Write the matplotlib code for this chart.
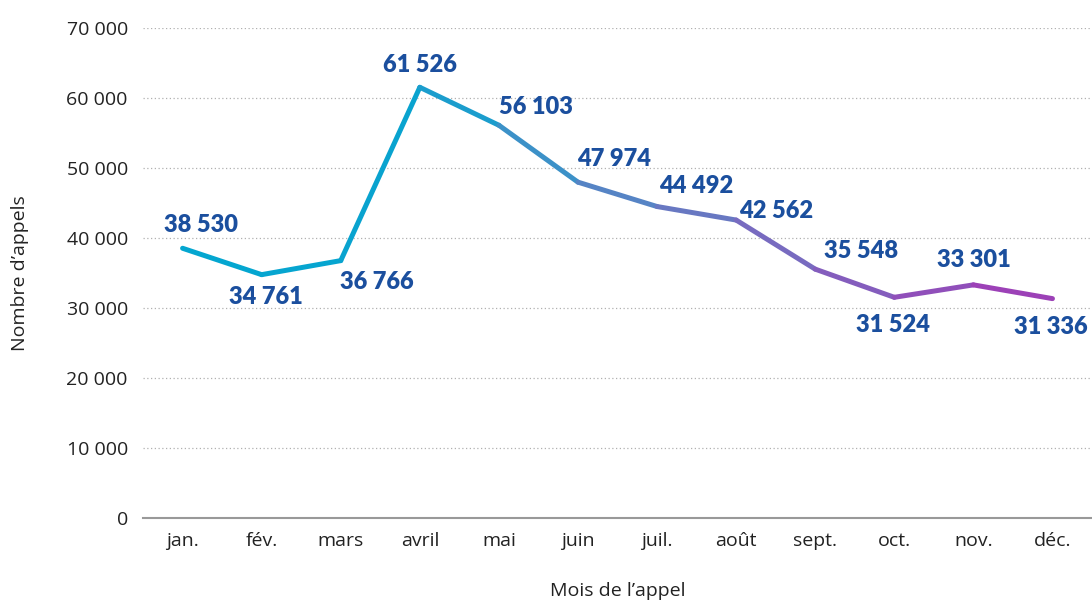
import numpy as np
import matplotlib.pyplot as plt
from matplotlib.collections import LineCollection
from matplotlib.colors import LinearSegmentedColormap

# Données
mois = ['jan.', 'fév.', 'mars', 'avril', 'mai', 'juin', 'juil.', 'août',
        'sept.', 'oct.', 'nov.', 'déc.']
appels = [38530, 34761, 36766, 61526, 56103, 47974, 44492, 42562,
          35548, 31524, 33301, 31336]
graduations = [0, 10000, 20000, 30000, 40000, 50000, 60000, 70000]

# Décalage des étiquettes (pixels)
decalages = [(18, 23), (4, -22), (36, -21), (0, 22), (37, 18), (36, 23),
             (39, 21), (40, 9), (46, 18), (-1, -28), (0, 25), (-2, -28)]

def fmt(v):
    return f"{v:,}".replace(',', ' ')

def fmt_axe(v):
    return f"{int(v):,}".replace(',', ' ')

plt.rcParams['font.family'] = ['Open Sans', 'DejaVu Sans']

fig = plt.figure(figsize=(10.92, 6.03), dpi=100)
ax = fig.add_axes([0.131, 0.141, 0.869, 0.8126])

x = np.arange(len(mois))
y = np.array(appels)

# Ligne en dégradé (couleur par segment)
cmap = LinearSegmentedColormap.from_list(
    'deg', [(0.0, '#03a6d0'), (0.27, '#0aa3cf'), (0.45, '#4b8bc6'),
            (0.65, '#7470c1'), (1.0, '#a23ab6')])
segments = [[(x[i], y[i]), (x[i + 1], y[i + 1])] for i in range(len(x) - 1)]
couleurs = [cmap((i + 0.5) / (len(x) - 1)) for i in range(len(x) - 1)]
lc = LineCollection(segments, colors=couleurs, linewidths=3.6,
                    capstyle='round', joinstyle='round', zorder=3)
ax.add_collection(lc)

for xi, yi, (dx, dy) in zip(x, y, decalages):
    ax.annotate(fmt(yi), (xi, yi), xytext=(dx, dy), textcoords='offset pixels',
                ha='center', va='center', fontsize=17, fontweight='heavy',
                family=['Lato', 'DejaVu Sans'], color='#1b4f9e', zorder=4)

ax.set_xlim(-0.5, len(mois) - 0.5)
ax.set_ylim(0, 70000)
ax.set_xticks(x)
ax.set_xticklabels(mois)
ax.set_yticks(graduations)
ax.set_yticklabels([fmt_axe(g) for g in graduations])
ax.tick_params(length=0, labelsize=14, colors='#222222')
ax.tick_params(axis='x', pad=10)
ax.tick_params(axis='y', pad=11)

for g in graduations[1:]:
    ax.axhline(g, color='#b0b0b0', linestyle=(0, (1, 2)), linewidth=0.9, zorder=1)

for s in ['top', 'right', 'left']:
    ax.spines[s].set_visible(False)
ax.spines['bottom'].set_color('#999999')
ax.spines['bottom'].set_linewidth(1.5)

ax.set_xlabel('Mois de l’appel', fontsize=14, color='#222222', labelpad=23)
ax.set_ylabel('Nombre d’appels', fontsize=14, color='#222222', labelpad=27)

fig.savefig('out.png', dpi=100)
